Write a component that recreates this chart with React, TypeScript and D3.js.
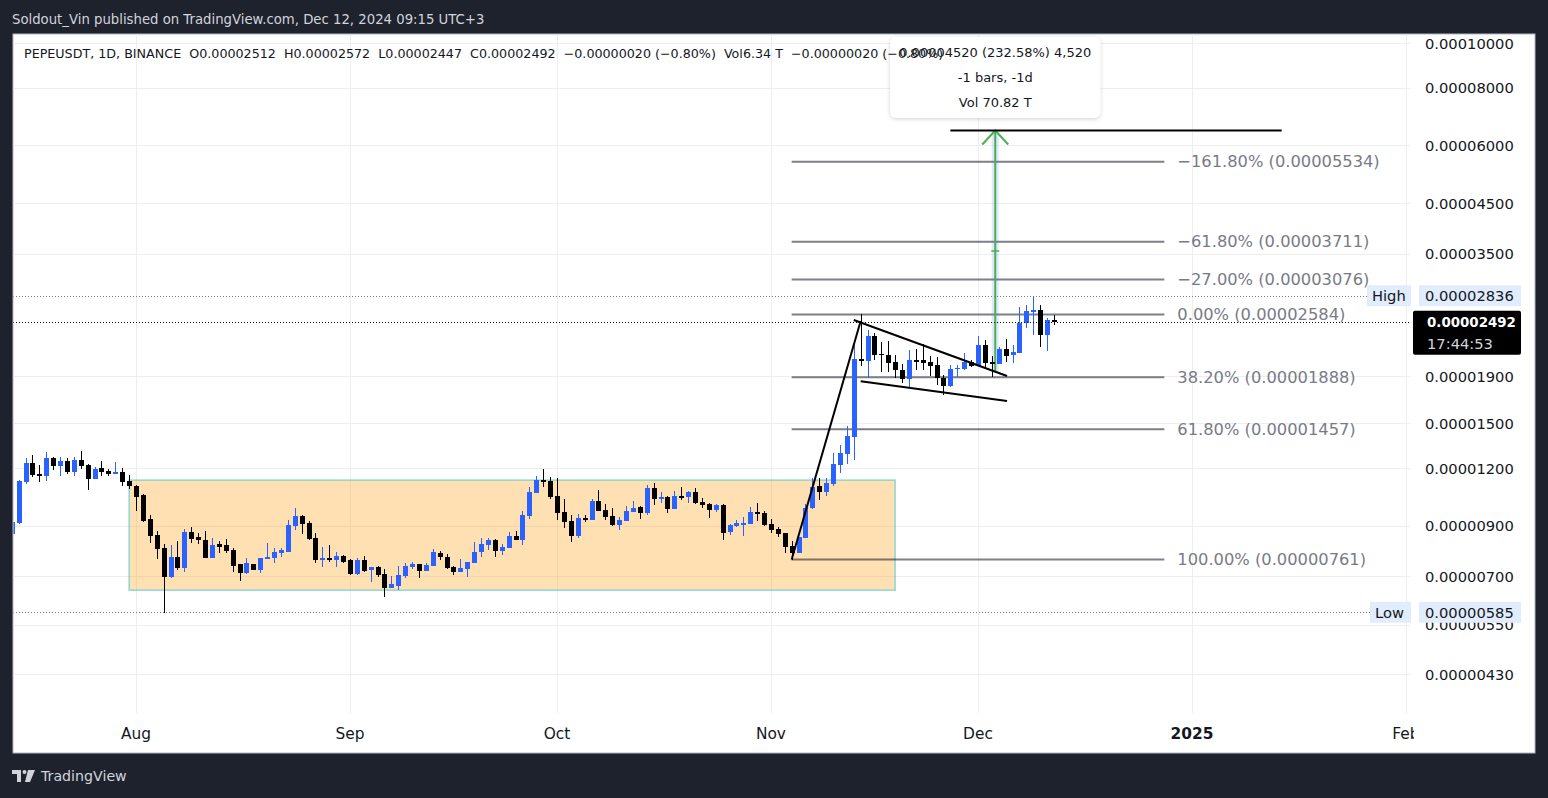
import { useRef, useEffect } from 'react';
import * as d3 from 'd3';

const WIDTH = 1548;
const HEIGHT = 798;
const FONT = "'DejaVu Sans', 'Liberation Sans', sans-serif";

// PEPEUSDT 1D (BINANCE), one bar per day starting Jul 14 2024.
// Prices are in units of 1e-8 USDT (2512 -> 0.00002512).
const FIRST_DAY = '2024-07-14';
const OPEN = [
  864, 912, 1119, 1231, 1165, 1153, 1262, 1213, 1243, 1177, 1250, 1219, 1137, 1201, 1183, 1171, 1177, 1125, 1097, 1049,
  931, 859, 805, 697, 770, 728, 872, 851, 838, 766, 822, 818, 798, 743, 711, 743, 722, 763, 766, 786,
  790, 898, 945, 912, 847, 759, 766, 759, 774, 759, 707, 759, 722, 732, 707, 660, 666, 700, 732, 743,
  718, 736, 786, 770, 732, 714, 725, 747, 790, 818, 838, 794, 805, 855, 838, 945, 1060, 1131, 1125, 1044,
  964, 922, 855, 936, 927, 1018, 974, 945, 903, 922, 964, 988, 959, 1087, 1034, 1039, 978, 1044, 1039, 1065,
  1013, 1003, 974, 998, 872, 898, 907, 907, 964, 959, 907, 886, 868, 814, 786, 847, 983, 1097, 1065, 1108,
  1219, 1288, 1402, 2068, 2047, 2319, 2121, 2110, 2037, 1958, 1871, 2058, 2058, 2037, 2007, 1880, 1807, 1968, 1968, 2037,
  1997, 2218, 2037, 2017, 2174, 2110, 2131, 2474, 2627, 2640, 2331, 2512,
];
const HIGH = [
  922, 1131, 1262, 1281, 1219, 1300, 1268, 1268, 1262, 1268, 1307, 1225, 1207, 1243, 1195, 1237, 1201, 1159, 1103, 1055,
  949, 876, 822, 818, 834, 886, 894, 868, 876, 847, 834, 843, 805, 743, 766, 743, 766, 826, 805, 805,
  927, 983, 949, 922, 868, 810, 818, 790, 778, 763, 766, 774, 732, 736, 725, 700, 736, 747, 751, 743,
  747, 802, 794, 782, 736, 763, 751, 830, 847, 847, 843, 822, 872, 876, 969, 1092, 1153, 1195, 1148, 1142,
  1028, 949, 954, 949, 1028, 1076, 1003, 983, 940, 993, 1018, 993, 1103, 1114, 1065, 1044, 1071, 1092, 1071, 1087,
  1034, 1008, 1003, 1003, 907, 927, 940, 988, 1008, 969, 931, 894, 868, 834, 851, 1003, 1142, 1142, 1142, 1294,
  1347, 1480, 2240, 2584, 2389, 2354, 2251, 2262, 2110, 2017, 2163, 2174, 2229, 2100, 2089, 1909, 2007, 2007, 2131, 2058,
  2319, 2273, 2100, 2196, 2284, 2218, 2679, 2706, 2836, 2706, 2540, 2572,
];
const LOW = [
  859, 907, 1108, 1148, 1119, 1125, 1189, 1153, 1165, 1153, 1195, 1076, 1137, 1153, 1153, 1165, 1097, 1081, 969, 917,
  826, 763, 582, 693, 722, 714, 826, 822, 766, 766, 786, 786, 714, 683, 707, 722, 711, 763, 747, 770,
  790, 881, 864, 838, 747, 732, 751, 732, 747, 704, 704, 714, 680, 697, 630, 660, 653, 693, 725, 693,
  718, 736, 759, 725, 704, 714, 697, 747, 770, 798, 770, 778, 805, 838, 818, 931, 1060, 1092, 1028, 927,
  889, 830, 847, 917, 927, 969, 927, 898, 881, 922, 964, 931, 949, 998, 1008, 959, 978, 1023, 1008, 1003,
  983, 936, 964, 838, 859, 894, 855, 907, 922, 898, 868, 851, 786, 761, 786, 847, 978, 1023, 1044, 1097,
  1171, 1225, 1250, 1997, 1880, 2058, 1938, 1938, 1880, 1834, 1798, 1958, 1958, 1900, 1816, 1727, 1798, 1890, 1958, 1987,
  1997, 1987, 1890, 2017, 2037, 2027, 2131, 2413, 2331, 2196, 2152, 2447,
];
const CLOSE = [
  917, 1125, 1231, 1159, 1159, 1262, 1213, 1243, 1177, 1250, 1213, 1137, 1195, 1177, 1165, 1177, 1119, 1097, 1039, 922,
  855, 802, 697, 770, 728, 872, 843, 838, 766, 818, 810, 794, 736, 711, 747, 722, 766, 770, 790, 798,
  903, 945, 907, 843, 759, 766, 759, 774, 751, 707, 759, 718, 732, 704, 660, 673, 704, 736, 743, 718,
  740, 790, 770, 728, 714, 728, 751, 790, 822, 838, 794, 810, 855, 838, 949, 1065, 1131, 1119, 1039, 959,
  917, 855, 936, 927, 1018, 969, 940, 903, 927, 969, 983, 959, 1087, 1028, 1039, 978, 1044, 1039, 1065, 1008,
  998, 974, 998, 868, 903, 912, 912, 964, 959, 903, 881, 864, 810, 786, 851, 983, 1092, 1065, 1114, 1225,
  1294, 1409, 2068, 2047, 2319, 2110, 2110, 2027, 1958, 1871, 2058, 2047, 2027, 1997, 1880, 1807, 1968, 1978, 2037, 1997,
  2218, 2027, 2017, 2174, 2100, 2142, 2474, 2627, 2640, 2331, 2512, 2492,
];

const PRICE_TICKS = [10000, 8000, 6000, 4500, 3500, 1900, 1500, 1200, 900, 700, 550, 430];
const TIME_TICKS = ['2024-08-01', '2024-09-01', '2024-10-01', '2024-11-01', '2024-12-01', '2025-01-01', '2025-02-01'];
const TIME_LABELS = ['Aug', 'Sep', 'Oct', 'Nov', 'Dec', '2025', 'Feb'];

const FIB_LABELS = ['−161.80%', '−61.80%', '−27.00%', '0.00%', '38.20%', '61.80%', '100.00%'];
const FIB_PRICES = [5534, 3711, 3076, 2584, 1888, 1457, 761];
const FIB_SPAN = ['2024-11-04', '2024-12-28'];

// consolidation box: dates and price bounds
const BOX_DATES = ['2024-07-31', '2024-11-19'];
const BOX_PRICES = [1131, 653];

type Pt = [string, number];
const IMPULSE: Pt[] = [['2024-11-04', 761], ['2024-11-14', 2500]];
const WEDGE_TOP: Pt[] = [['2024-11-13', 2512], ['2024-12-05T05:00', 1900]];
const WEDGE_BOTTOM: Pt[] = [['2024-11-14', 1852], ['2024-12-05T05:00', 1677]];
const TARGET_LINE: Pt[] = [['2024-11-27', 6463.4], ['2025-01-14', 6463.4]];
const MEASURE_DATE = '2024-12-03T12:00';
const MEASURE_PRICES = [1943.4, 6463.4];
const MEASURE_VOL = 'Vol 70.82 T';

const HIGH_PRICE = 2836;
const LOW_PRICE = 585;
const VOLUME_LABEL = 'Vol6.34 T';
const COUNTDOWN = '17:44:53';

const UP = '#2962ff';
const DOWN = '#000000';
const DAY = 86400000;

const parseDay = (s: string) => new Date(s.length === 10 ? `${s}T00:00:00Z` : `${s}:00Z`);
const fmt = (v: number) => (v * 1e-8).toFixed(8);
const signed = (s: string) => s.replace('-', '−');

function drawChart(svgEl: SVGSVGElement) {
  const svg = d3.select(svgEl);
  svg.selectAll('*').remove();

  const x = d3.scaleUtc()
    .domain([parseDay('2024-08-01'), parseDay('2024-12-01')])
    .range([136, 978]);
  const y = d3.scaleLog().domain([10000, 430]).range([43, 674]);

  const left = 13;
  const top = 34;
  const plotRight = 1411;
  const plotBottom = 713;
  const panelRight = 1535;
  const panelBottom = 753;

  svg.append('rect').attr('width', WIDTH).attr('height', HEIGHT).attr('fill', '#1e222d');

  svg.append('text')
    .attr('x', 12).attr('y', 19)
    .attr('dominant-baseline', 'central')
    .attr('fill', '#d1d4dc')
    .attr('font-family', FONT).attr('font-size', 13.25)
    .text('Soldout_Vin published on TradingView.com, Dec 12, 2024 09:15 UTC+3');

  svg.append('rect')
    .attr('x', left).attr('y', top)
    .attr('width', panelRight - left).attr('height', panelBottom - top)
    .attr('fill', '#ffffff').attr('stroke', '#b2b5be').attr('stroke-width', 1);

  const defs = svg.append('defs');
  defs.append('clipPath').attr('id', 'plot-clip')
    .append('rect').attr('x', left + 0.5).attr('y', top + 0.5)
    .attr('width', plotRight - left).attr('height', plotBottom - top);
  defs.append('clipPath').attr('id', 'time-clip')
    .append('rect').attr('x', left).attr('y', plotBottom).attr('width', 1414 - left).attr('height', 40);
  const shadow = defs.append('filter').attr('id', 'tip-shadow')
    .attr('x', '-10%').attr('y', '-10%').attr('width', '120%').attr('height', '130%');
  shadow.append('feDropShadow').attr('dx', 0).attr('dy', 1).attr('stdDeviation', 2)
    .attr('flood-color', '#000').attr('flood-opacity', 0.18);

  const plot = svg.append('g').attr('clip-path', 'url(#plot-clip)');

  // grid
  const timeTicks = TIME_TICKS.map(parseDay);
  plot.append('g').selectAll('line').data(timeTicks).join('line')
    .attr('x1', d => Math.round(x(d)) + 0.5).attr('x2', d => Math.round(x(d)) + 0.5)
    .attr('y1', top).attr('y2', plotBottom)
    .attr('stroke', '#eceef2');
  plot.append('g').selectAll('line').data(PRICE_TICKS).join('line')
    .attr('x1', left).attr('x2', plotRight)
    .attr('y1', d => Math.round(y(d)) + 0.5).attr('y2', d => Math.round(y(d)) + 0.5)
    .attr('stroke', '#eceef2');

  // consolidation box
  const [b0, b1] = BOX_DATES.map(parseDay);
  plot.append('rect')
    .attr('x', x(b0)).attr('y', y(BOX_PRICES[0]))
    .attr('width', x(b1) - x(b0)).attr('height', y(BOX_PRICES[1]) - y(BOX_PRICES[0]))
    .attr('fill', 'rgba(255,152,0,0.3)')
    .attr('stroke', 'rgba(0,188,212,0.45)').attr('stroke-width', 1.5);

  // fib levels
  const [f0, f1] = FIB_SPAN.map(parseDay);
  plot.append('g').selectAll('line').data(FIB_PRICES).join('line')
    .attr('x1', x(f0)).attr('x2', x(f1))
    .attr('y1', d => y(d)).attr('y2', d => y(d))
    .attr('stroke', 'rgba(19,23,34,0.55)').attr('stroke-width', 2);

  // high / low markers
  [HIGH_PRICE, LOW_PRICE].forEach(p => {
    plot.append('line')
      .attr('x1', left).attr('x2', plotRight)
      .attr('y1', Math.round(y(p)) + 0.5).attr('y2', Math.round(y(p)) + 0.5)
      .attr('stroke', '#787b86').attr('stroke-dasharray', '1 2');
  });

  // measure band + arrow
  const mx = x(parseDay(MEASURE_DATE));
  const [m0, m1] = MEASURE_PRICES;
  plot.append('rect')
    .attr('x', mx - 3.5).attr('width', 7)
    .attr('y', y(m1)).attr('height', y(m0) - y(m1))
    .attr('fill', 'rgba(41,98,255,0.15)');
  plot.append('line')
    .attr('x1', mx).attr('x2', mx).attr('y1', y(m0)).attr('y2', y(m1))
    .attr('stroke', '#4caf50').attr('stroke-width', 2);
  plot.append('path')
    .attr('d', `M${mx - 13},${y(m1) + 14}L${mx},${y(m1)}L${mx + 13},${y(m1) + 14}`)
    .attr('fill', 'none').attr('stroke', '#4caf50').attr('stroke-width', 2);
  const mid = Math.sqrt(m0 * m1);
  plot.append('line')
    .attr('x1', mx - 4).attr('x2', mx + 4).attr('y1', y(mid)).attr('y2', y(mid))
    .attr('stroke', '#4caf50').attr('stroke-width', 1.5);

  // candles
  const start = parseDay(FIRST_DAY).getTime();
  const dates = OPEN.map((_, i) => new Date(start + i * DAY));
  const bars = plot.append('g').selectAll('g').data(d3.range(OPEN.length)).join('g')
    .attr('shape-rendering', 'crispEdges');
  bars.append('line')
    .attr('x1', i => Math.round(x(dates[i])) + 0.5)
    .attr('x2', i => Math.round(x(dates[i])) + 0.5)
    .attr('y1', i => y(HIGH[i])).attr('y2', i => y(LOW[i]))
    .attr('stroke', i => (CLOSE[i] >= OPEN[i] ? UP : DOWN)).attr('stroke-width', 1);
  bars.append('rect')
    .attr('x', i => Math.round(x(dates[i])) - 2)
    .attr('width', 5)
    .attr('y', i => y(Math.max(OPEN[i], CLOSE[i])))
    .attr('height', i => Math.max(1.5, Math.abs(y(OPEN[i]) - y(CLOSE[i]))))
    .attr('fill', i => (CLOSE[i] >= OPEN[i] ? UP : DOWN));

  // trend drawings
  const line = d3.line<Pt>().x(d => x(parseDay(d[0]))).y(d => y(d[1]));
  [IMPULSE, WEDGE_TOP, WEDGE_BOTTOM, TARGET_LINE].forEach(pts => {
    plot.append('path').attr('d', line(pts))
      .attr('fill', 'none').attr('stroke', '#000').attr('stroke-width', 2);
  });

  // last price
  const last = OPEN.length - 1;
  plot.append('line')
    .attr('x1', left).attr('x2', plotRight)
    .attr('y1', Math.round(y(CLOSE[last])) + 0.5).attr('y2', Math.round(y(CLOSE[last])) + 0.5)
    .attr('stroke', '#000').attr('stroke-dasharray', '1 2');

  // fib labels
  svg.append('g').selectAll('text').data(FIB_PRICES).join('text')
    .attr('x', x(f1) + 13).attr('y', d => y(d))
    .attr('dominant-baseline', 'central')
    .attr('fill', '#787b86')
    .attr('font-family', FONT).attr('font-size', 16.3)
    .text((d, i) => `${FIB_LABELS[i]} (${fmt(d)})`);

  // measure tooltip
  const diff = m1 - m0;
  const tipLines = [
    `${fmt(diff)} (${(diff / m0 * 100).toFixed(2)}%) ${d3.format(',')(Math.round(diff))}`,
    '-1 bars, -1d',
    MEASURE_VOL,
  ];
  svg.append('rect')
    .attr('x', mx - 105).attr('y', 37).attr('width', 210).attr('height', 81).attr('rx', 6)
    .attr('fill', '#fff').attr('filter', 'url(#tip-shadow)');
  svg.append('g').selectAll('text').data(tipLines).join('text')
    .attr('x', mx).attr('y', (_, i) => 52 + i * 25)
    .attr('text-anchor', 'middle').attr('dominant-baseline', 'central')
    .attr('fill', '#131722').attr('font-family', FONT).attr('font-size', 13)
    .text(d => d);

  // legend
  const chg = CLOSE[last] - CLOSE[last - 1];
  const chgText = `${signed(fmt(chg))} (${signed((chg / CLOSE[last - 1] * 100).toFixed(2))}%)`;
  svg.append('text')
    .attr('x', 24).attr('y', 53)
    .attr('dominant-baseline', 'central')
    .attr('fill', '#131722').attr('font-family', FONT).attr('font-size', 12.7)
    .style('white-space', 'pre')
    .text(`PEPEUSDT, 1D, BINANCE  O${fmt(OPEN[last])}  H${fmt(HIGH[last])}  L${fmt(LOW[last])}  C${fmt(CLOSE[last])}  ${chgText}  ${VOLUME_LABEL}  ${chgText}`);

  // price axis
  const axis = svg.append('g').attr('font-family', FONT).attr('font-size', 14.7).attr('fill', '#131722');
  axis.selectAll('text').data(PRICE_TICKS).join('text')
    .attr('x', 1425).attr('y', d => y(d))
    .attr('dominant-baseline', 'central')
    .text(d => fmt(d));

  const tag = (p: number, label: string, labelX: number) => {
    const yy = y(p);
    svg.append('rect').attr('x', labelX).attr('y', yy - 10.5).attr('width', 1411 - labelX).attr('height', 21)
      .attr('fill', '#e1ecfd');
    svg.append('text').attr('x', labelX + 5).attr('y', yy).attr('dominant-baseline', 'central')
      .attr('fill', '#131722').attr('font-family', FONT).attr('font-size', 14.7).text(label);
    svg.append('rect').attr('x', 1419).attr('y', yy - 10.5).attr('width', 102).attr('height', 21)
      .attr('fill', '#e1ecfd');
    svg.append('text').attr('x', 1425).attr('y', yy).attr('dominant-baseline', 'central')
      .attr('fill', '#131722').attr('font-family', FONT).attr('font-size', 14.7).text(fmt(p));
  };
  tag(HIGH_PRICE, 'High', 1367);
  tag(LOW_PRICE, 'Low', 1370);

  const cy = y(CLOSE[last]);
  svg.append('rect').attr('x', 1413).attr('y', cy - 11).attr('width', 108).attr('height', 44).attr('rx', 2)
    .attr('fill', '#000');
  svg.append('text').attr('x', 1427).attr('y', cy + 1).attr('dominant-baseline', 'central')
    .attr('fill', '#fff').attr('font-family', FONT).attr('font-size', 13.4).attr('font-weight', 'bold')
    .text(fmt(CLOSE[last]));
  svg.append('text').attr('x', 1427).attr('y', cy + 22).attr('dominant-baseline', 'central')
    .attr('fill', '#d1d4dc').attr('font-family', FONT).attr('font-size', 14.7)
    .text(COUNTDOWN);

  // time axis
  svg.append('g').attr('clip-path', 'url(#time-clip)')
    .selectAll('text').data(timeTicks).join('text')
    .attr('x', d => x(d)).attr('y', 734)
    .attr('text-anchor', 'middle').attr('dominant-baseline', 'central')
    .attr('fill', '#131722').attr('font-family', FONT).attr('font-size', 15.4)
    .attr('font-weight', (_, i) => (TIME_LABELS[i] === '2025' ? 'bold' : 'normal'))
    .text((_, i) => TIME_LABELS[i]);

  // TradingView mark
  const logo = svg.append('g').attr('fill', '#d1d4dc');
  logo.append('path').attr('d', 'M12,770h9v12h-4v-8h-5z');
  logo.append('circle').attr('cx', 24.5).attr('cy', 772).attr('r', 2);
  logo.append('path').attr('d', 'M28,770h7l-5,12h-5z');
  logo.append('text').attr('x', 41).attr('y', 776).attr('dominant-baseline', 'central')
    .attr('font-family', FONT).attr('font-size', 14.2)
    .text('TradingView');
}

export default function App() {
  const svgRef = useRef<SVGSVGElement>(null);

  useEffect(() => {
    document.body.style.margin = '0';
    if (svgRef.current) drawChart(svgRef.current);
  }, []);

  return <svg ref={svgRef} width={WIDTH} height={HEIGHT} style={{ display: 'block' }} />;
}
